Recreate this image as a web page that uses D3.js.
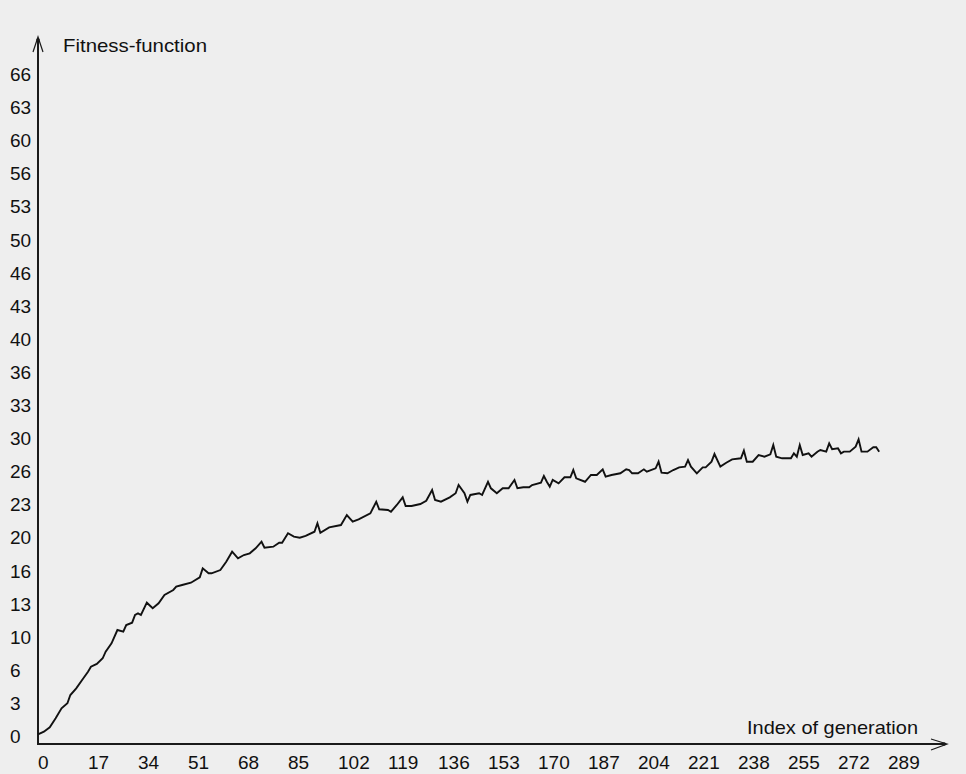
<!DOCTYPE html>
<html>
<head>
<meta charset="utf-8">
<script src="https://cdn.jsdelivr.net/npm/d3@7"></script>
<style>
  html, body { margin: 0; padding: 0; background: #eeeeee; }
  svg { display: block; }
  text { font-family: "Liberation Sans", Arial, sans-serif; fill: #111; }
</style>
</head>
<body>
<script>
// ---- data ----
const generations = [0,2,4,6,8,10,11,13,15,17,18,20,22,23,25,27,29,30,32,33,34,35,37,39,41,43,46,47,49,52,55,56,58,59,62,64,66,68,70,72,74,76,77,80,82,83,85,87,89,91,94,95,96,99,103,105,107,109,113,115,116,119,120,122,124,125,127,130,132,134,135,137,140,142,143,145,146,147,150,151,153,154,156,158,160,162,163,165,167,168,171,172,173,174,175,177,179,181,182,183,186,188,190,192,193,195,198,200,201,202,204,206,207,210,211,212,214,216,218,220,221,222,224,226,227,229,230,232,234,236,239,240,241,243,245,247,249,250,251,253,256,257,258,259,260,262,263,265,266,268,269,270,272,273,274,276,278,279,280,282,284,285,286];
const fitness = [0.98,1.24,1.68,2.59,3.60,4.10,4.93,5.61,6.45,7.28,7.78,8.06,8.63,9.30,10.14,11.48,11.31,11.98,12.22,13.00,13.16,12.99,14.23,13.67,14.17,15.00,15.51,15.84,16.01,16.24,16.79,17.69,17.19,17.19,17.52,18.36,19.37,18.70,19.03,19.20,19.71,20.37,19.77,19.87,20.27,20.27,21.22,20.88,20.78,20.95,21.38,22.23,21.28,21.82,22.05,23.06,22.39,22.63,23.23,24.40,23.64,23.56,23.39,24.07,24.84,23.97,23.97,24.17,24.50,25.58,24.57,24.40,24.84,25.25,26.08,25.25,24.40,25.08,25.25,25.08,26.41,25.75,25.25,25.75,25.75,26.59,25.75,25.85,25.85,26.08,26.31,26.99,26.41,25.91,26.59,26.25,26.86,26.86,27.59,26.76,26.41,27.09,27.09,27.66,26.92,27.09,27.26,27.66,27.59,27.26,27.26,27.66,27.42,27.76,28.43,27.32,27.26,27.59,27.86,27.93,28.60,27.93,27.26,27.86,27.86,28.43,29.20,27.93,28.33,28.67,28.77,29.54,28.43,28.43,29.10,28.93,29.17,30.11,28.93,28.77,28.77,29.27,28.93,30.11,29.10,29.27,28.93,29.44,29.61,29.44,30.28,29.68,29.78,29.27,29.44,29.44,29.94,30.68,29.44,29.44,29.88,29.88,29.44];
const yTickLabels = ["0","3","6","10","13","16","20","23","26","30","33","36","40","43","46","50","53","56","60","63","66"];
const yTickValues = [0,10/3,20/3,10,40/3,50/3,20,70/3,80/3,30,100/3,110/3,40,130/3,140/3,50,160/3,170/3,60,190/3,200/3];
const xTickLabels = ["0","17","34","51","68","85","102","119","136","153","170","187","204","221","238","255","272","289"];
const xTickValues = [0,17,34,51,68,85,102,119,136,153,170,187,204,221,238,255,272,289];
const yTitle = "Fitness-function";
const xTitle = "Index of generation";

// ---- drawing ----
const W = 966, H = 774;
const originX = 38, originY = 744;
const svg = d3.select("body").append("svg").attr("width", W).attr("height", H);
svg.append("rect").attr("width", W).attr("height", H).attr("fill", "#eeeeee");

const x = d3.scaleLinear().domain([0, 17]).range([originX, originX + 50]);
const y = d3.scaleLinear().domain([0, 10/3]).range([originY, originY - 33.1]);

// y tick labels (left aligned, bottom at value)
svg.append("g").selectAll("text").data(yTickValues).join("text")
  .attr("x", 10).attr("y", d => y(d) - 1)
  .style("font-size", "19px")
  .text((d, i) => yTickLabels[i]);

// x tick labels (left aligned at value)
svg.append("g").selectAll("text").data(xTickValues).join("text")
  .attr("x", d => x(d)).attr("y", 769)
  .style("font-size", "19px")
  .text((d, i) => xTickLabels[i]);

// axes
const axisColor = "#1a1a1a";
svg.append("line").attr("x1", originX).attr("y1", originY + 1).attr("x2", originX).attr("y2", 38)
  .attr("stroke", axisColor).attr("stroke-width", 2);
svg.append("line").attr("x1", originX - 1).attr("y1", originY).attr("x2", 946).attr("y2", originY)
  .attr("stroke", axisColor).attr("stroke-width", 2);
// arrow heads
svg.append("path").attr("d", `M${originX - 5},52 L${originX},37 L${originX + 5},52`)
  .attr("fill", "none").attr("stroke", axisColor).attr("stroke-width", 1.2);
svg.append("circle").attr("cx", originX).attr("cy", 40).attr("r", 1.8).attr("fill", axisColor);
svg.append("path").attr("d", `M931,739 L947,${originY} L931,750`)
  .attr("fill", "none").attr("stroke", axisColor).attr("stroke-width", 1.2);
svg.append("circle").attr("cx", 944).attr("cy", originY).attr("r", 1.8).attr("fill", axisColor);

// axis titles
svg.append("text").attr("x", 63).attr("y", 52).style("font-size", "19px")
  .attr("textLength", 144).attr("lengthAdjust", "spacingAndGlyphs").text(yTitle);
svg.append("text").attr("x", 747).attr("y", 734).style("font-size", "19px")
  .attr("textLength", 171).attr("lengthAdjust", "spacingAndGlyphs").text(xTitle);

// curve
const pts = generations.map((g, i) => [g, fitness[i]]);
const line = d3.line().x(d => x(d[0])).y(d => y(d[1]));
svg.append("path").datum(pts).attr("d", line)
  .attr("fill", "none").attr("stroke", "#111").attr("stroke-width", 1.9)
  .attr("stroke-linejoin", "miter");
</script>
</body>
</html>
